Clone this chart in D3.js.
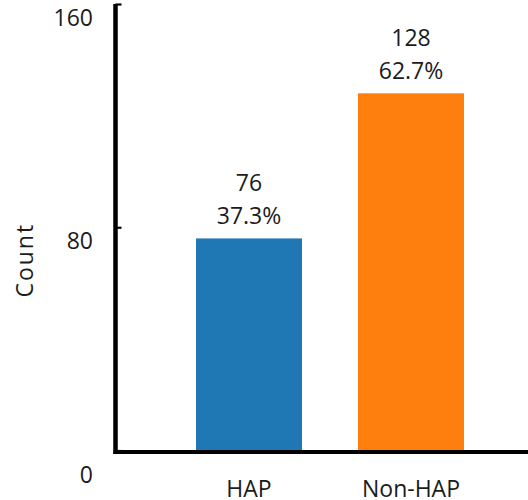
<!DOCTYPE html>
<html>
<head>
<meta charset="utf-8">
<script src="https://cdn.jsdelivr.net/npm/d3@7"></script>
<style>
  html, body { margin: 0; padding: 0; background: #fff; }
  svg { display: block; font-family: "Open Sans", "Noto Sans", sans-serif; }
</style>
</head>
<body>
<svg id="chart" width="528" height="500"></svg>
<script>
// Group counts and their share of the total
const categories = ["HAP", "Non-HAP"];
const counts = [76, 128];
const shares = ["37.3%", "62.7%"];
const barColors = ["#1f77b4", "#ff7f0e"];
const yTicks = [0, 80, 160];
const yTitle = "Count";

const svg = d3.select("#chart");
const W = 528;
const axisX = 115.5;
const textColor = "#1b1b1b";

const x = d3.scaleBand()
  .domain(categories)
  .range([168, 492])
  .paddingInner(0.3457)
  .paddingOuter(0.1728);

const y = d3.scaleLinear()
  .domain([0, 160])
  .range([450.5, 4]);

const baseY = 452;

// Bars
svg.append("g")
  .selectAll("rect")
  .data(categories)
  .join("rect")
  .attr("x", d => x(d))
  .attr("width", x.bandwidth())
  .attr("y", (d, i) => y(counts[i]))
  .attr("height", (d, i) => y(0) - y(counts[i]))
  .attr("fill", (d, i) => barColors[i]);

// Value and percentage labels above each bar
const labels = svg.append("g")
  .attr("font-size", 23)
  .attr("fill", textColor)
  .attr("text-anchor", "middle");

labels.selectAll("text.count")
  .data(categories)
  .join("text")
  .attr("class", "count")
  .attr("x", d => x(d) + x.bandwidth() / 2)
  .attr("y", (d, i) => y(counts[i]) - 47)
  .text((d, i) => counts[i]);

labels.selectAll("text.share")
  .data(categories)
  .join("text")
  .attr("class", "share")
  .attr("x", d => x(d) + x.bandwidth() / 2)
  .attr("y", (d, i) => y(counts[i]) - 14)
  .text((d, i) => shares[i]);

// Y axis: thick spine with short inward ticks
const yAxis = d3.axisRight(y)
  .tickValues(yTicks)
  .tickSize(6)
  .tickFormat("");

const gy = svg.append("g")
  .attr("transform", `translate(${axisX},0)`)
  .call(yAxis);
gy.select(".domain").remove();
gy.selectAll(".tick line").attr("stroke", "#000").attr("stroke-width", 2.2);

svg.append("line")
  .attr("x1", axisX).attr("x2", axisX)
  .attr("y1", y(160)).attr("y2", baseY + 2)
  .attr("stroke", "#000").attr("stroke-width", 4.5);

// X axis category labels
const xAxis = d3.axisBottom(x).tickSize(0).tickPadding(29);
const gx = svg.append("g")
  .attr("transform", `translate(0,${baseY})`)
  .call(xAxis);
gx.select(".domain").remove();
gx.selectAll(".tick text")
  .attr("font-size", 23)
  .attr("font-family", "\"Open Sans\", \"Noto Sans\", sans-serif")
  .attr("fill", textColor);

// X axis baseline
svg.append("line")
  .attr("x1", axisX - 2).attr("x2", W)
  .attr("y1", baseY).attr("y2", baseY)
  .attr("stroke", "#000").attr("stroke-width", 4);

// Y tick labels sit just below their tick; the zero label drops below the baseline
svg.append("g")
  .attr("font-size", 23)
  .attr("fill", textColor)
  .attr("text-anchor", "end")
  .selectAll("text")
  .data(yTicks)
  .join("text")
  .attr("x", 93)
  .attr("y", d => (y(d) > baseY - 10 ? baseY + 31 : y(d) + 22))
  .text(d => d);

// Y axis title
svg.append("text")
  .attr("transform", `translate(33,${(y(0) + y(160)) / 2 + 33}) rotate(-90)`)
  .attr("text-anchor", "middle")
  .attr("font-size", 23)
  .attr("letter-spacing", 2)
  .attr("fill", textColor)
  .text(yTitle);
</script>
</body>
</html>
